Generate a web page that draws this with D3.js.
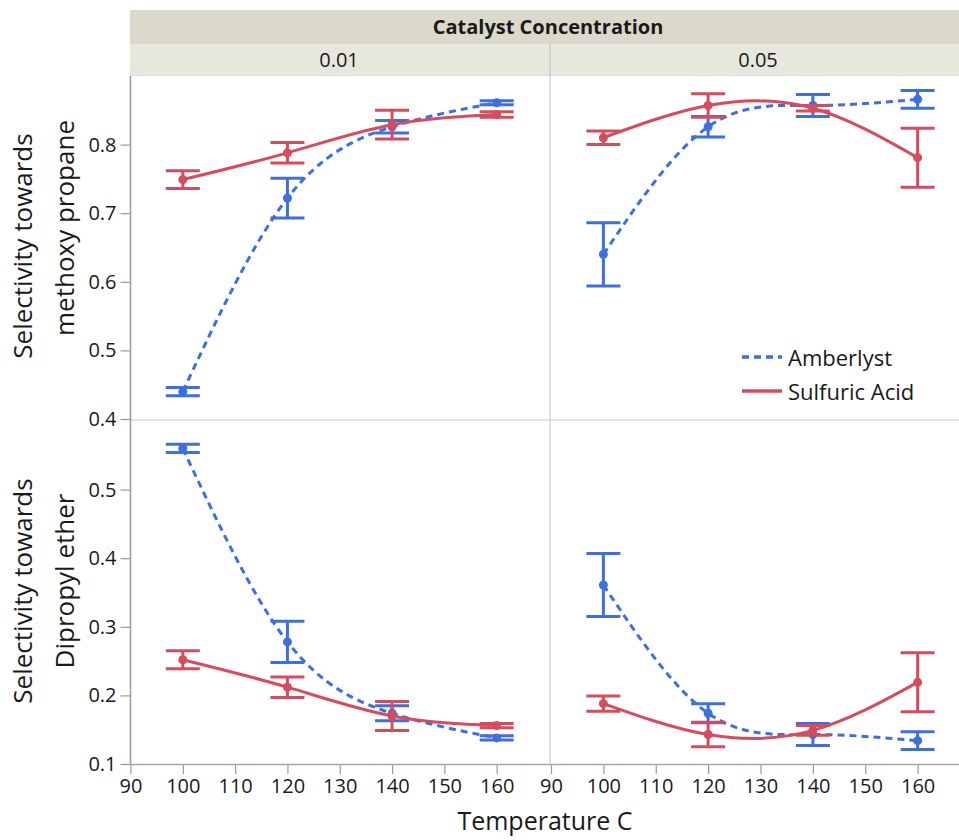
<!DOCTYPE html>
<html>
<head>
<meta charset="utf-8">
<script src="https://cdn.jsdelivr.net/npm/d3@7"></script>
<style>
  html, body { margin: 0; padding: 0; background: #fff; }
  svg { display: block; font-family: "Open Sans", "Noto Sans", sans-serif; }
</style>
</head>
<body>
<script>
// ---- data ----
const temperatures = [100, 120, 140, 160];
const concentrations = ["0.01", "0.05"];
const catalysts = ["Amberlyst", "Sulfuric Acid"];
const responseLines = [["Selectivity towards", "methoxy propane"], ["Selectivity towards", "Dipropyl ether"]];
const xTickValues = [90, 100, 110, 120, 130, 140, 150, 160];
const yTickValuesTop = [0.4, 0.5, 0.6, 0.7, 0.8];
const yTickValuesBottom = [0.1, 0.2, 0.3, 0.4, 0.5];

// methoxy propane selectivity (mean and error half-width)
const methoxyAmberlyst001 = [0.440, 0.722, 0.826, 0.861];
const methoxyAmberlyst001Err = [0.006, 0.029, 0.009, 0.003];
const methoxySulfuric001 = [0.749, 0.788, 0.829, 0.844];
const methoxySulfuric001Err = [0.013, 0.015, 0.021, 0.004];
const methoxyAmberlyst005 = [0.640, 0.826, 0.857, 0.866];
const methoxyAmberlyst005Err = [0.046, 0.015, 0.016, 0.013];
const methoxySulfuric005 = [0.810, 0.857, 0.853, 0.781];
const methoxySulfuric005Err = [0.010, 0.017, 0.004, 0.043];

// dipropyl ether selectivity (mean and error half-width)
const etherAmberlyst001 = [0.560, 0.278, 0.174, 0.138];
const etherAmberlyst001Err = [0.006, 0.030, 0.011, 0.003];
const etherSulfuric001 = [0.252, 0.212, 0.170, 0.156];
const etherSulfuric001Err = [0.013, 0.015, 0.021, 0.003];
const etherAmberlyst005 = [0.361, 0.174, 0.143, 0.134];
const etherAmberlyst005Err = [0.046, 0.014, 0.016, 0.013];
const etherSulfuric005 = [0.188, 0.143, 0.149, 0.219];
const etherSulfuric005Err = [0.011, 0.018, 0.007, 0.043];

// ---- layout ----
const W = 959, H = 840;
const colRanges = [[130.5, 549], [551, 970]];
const rowRanges = [[419, 76], [764, 421]];
const yDomains = [[0.4, 0.9], [0.1, 0.6]];
const xDomain = [90, 170];
const catColor = ["#3d6fdf", "#d64c5c"];
const catDash = ["7,5", null];
const textColor = "#1a1a1a";

const panels = [
  { row: 0, col: 0, series: [
    { cat: 0, mean: methoxyAmberlyst001, err: methoxyAmberlyst001Err },
    { cat: 1, mean: methoxySulfuric001, err: methoxySulfuric001Err } ] },
  { row: 0, col: 1, series: [
    { cat: 0, mean: methoxyAmberlyst005, err: methoxyAmberlyst005Err },
    { cat: 1, mean: methoxySulfuric005, err: methoxySulfuric005Err } ] },
  { row: 1, col: 0, series: [
    { cat: 0, mean: etherAmberlyst001, err: etherAmberlyst001Err },
    { cat: 1, mean: etherSulfuric001, err: etherSulfuric001Err } ] },
  { row: 1, col: 1, series: [
    { cat: 0, mean: etherAmberlyst005, err: etherAmberlyst005Err },
    { cat: 1, mean: etherSulfuric005, err: etherSulfuric005Err } ] }
];

const xScales = colRanges.map(r => d3.scaleLinear().domain(xDomain).range(r));
const yScales = rowRanges.map((r, i) => d3.scaleLinear().domain(yDomains[i]).range(r));

const svg = d3.select("body").append("svg").attr("width", W).attr("height", H);

// ---- header strips ----
svg.append("rect").attr("x", 130).attr("y", 10).attr("width", W - 130).attr("height", 33)
  .attr("fill", "#dbd9ca");
svg.append("rect").attr("x", 130).attr("y", 43).attr("width", W - 130).attr("height", 33)
  .attr("fill", "#e8e7de");
svg.append("line").attr("x1", 130).attr("x2", W).attr("y1", 43).attr("y2", 43)
  .attr("stroke", "#d2d0c3").attr("stroke-width", 1);
svg.append("line").attr("x1", 130).attr("x2", W).attr("y1", 75.5).attr("y2", 75.5)
  .attr("stroke", "#dcdcd6").attr("stroke-width", 1);
svg.append("line").attr("x1", 550).attr("x2", 550).attr("y1", 43).attr("y2", 76)
  .attr("stroke", "#d2d1c8").attr("stroke-width", 2);

svg.append("text").attr("x", 548).attr("y", 26.5)
  .attr("text-anchor", "middle").attr("dominant-baseline", "central")
  .attr("font-size", 20).attr("font-weight", "bold").attr("fill", textColor)
  .text("Catalyst Concentration");

svg.selectAll("text.conc").data(concentrations).join("text")
  .attr("class", "conc")
  .attr("x", (d, i) => i === 0 ? 339 : 758).attr("y", 59)
  .attr("text-anchor", "middle").attr("dominant-baseline", "central")
  .attr("font-size", 20).attr("fill", textColor)
  .text(d => d);

// ---- panel separators ----
svg.append("line").attr("x1", 130).attr("x2", W).attr("y1", 420).attr("y2", 420)
  .attr("stroke", "#dadada").attr("stroke-width", 1.5);
svg.append("line").attr("x1", 550).attr("x2", 550).attr("y1", 76).attr("y2", 764)
  .attr("stroke", "#d6d6d6").attr("stroke-width", 1.5);

// ---- axes ----
function styleAxis(g) {
  g.select(".domain").remove();
  g.selectAll(".tick line").attr("stroke", "#9a9a9a").attr("stroke-width", 1.2);
  g.selectAll(".tick text").attr("fill", textColor).attr("font-size", 20)
    .attr("font-family", "\"Open Sans\", \"Noto Sans\", sans-serif");
}

[yTickValuesTop, yTickValuesBottom].forEach((tv, i) => {
  svg.append("g").attr("transform", "translate(130.5,0)")
    .call(d3.axisLeft(yScales[i]).tickValues(tv).tickFormat(d3.format(".1f")).tickSize(10).tickPadding(4))
    .call(styleAxis);
});

xScales.forEach(xs => {
  svg.append("g").attr("transform", "translate(0,764)")
    .call(d3.axisBottom(xs).tickValues(xTickValues).tickSize(10).tickPadding(5))
    .call(styleAxis);
});

svg.append("line").attr("x1", 130.5).attr("x2", 130.5).attr("y1", 76).attr("y2", 765)
  .attr("stroke", "#9a9a9a").attr("stroke-width", 1.5);
svg.append("line").attr("x1", 130).attr("x2", W).attr("y1", 764.5).attr("y2", 764.5)
  .attr("stroke", "#a8a8a8").attr("stroke-width", 1.5);

// ---- axis titles ----
const yTitlePos = [
  [{ x: 22, y: 246 }, { x: 64, y: 228 }],
  [{ x: 22, y: 591 }, { x: 64, y: 581 }]
];
responseLines.forEach((lines, r) => {
  lines.forEach((t, k) => {
    const p = yTitlePos[r][k];
    svg.append("text")
      .attr("transform", `translate(${p.x},${p.y}) rotate(-90)`)
      .attr("text-anchor", "middle").attr("dominant-baseline", "central")
      .attr("font-size", 26).attr("fill", textColor)
      .text(t);
  });
});

svg.append("text").attr("x", 545).attr("y", 820)
  .attr("text-anchor", "middle").attr("dominant-baseline", "central")
  .attr("font-size", 25).attr("fill", textColor)
  .text("Temperature C");

// ---- panel contents ----
const capHalf = 17;
panels.forEach(p => {
  const xs = xScales[p.col], ys = yScales[p.row];
  const g = svg.append("g");
  p.series.forEach(s => {
    const col = catColor[s.cat];
    const pts = temperatures.map((t, i) => ({ t, m: s.mean[i], e: s.err[i] }));
    const sg = g.append("g");

    // error bars
    const eb = sg.selectAll("g.eb").data(pts).join("g").attr("class", "eb");
    eb.append("line")
      .attr("x1", d => xs(d.t)).attr("x2", d => xs(d.t))
      .attr("y1", d => ys(d.m - d.e)).attr("y2", d => ys(d.m + d.e))
      .attr("stroke", col).attr("stroke-width", 3);
    eb.append("line")
      .attr("x1", d => xs(d.t) - capHalf).attr("x2", d => xs(d.t) + capHalf)
      .attr("y1", d => ys(d.m + d.e)).attr("y2", d => ys(d.m + d.e))
      .attr("stroke", col).attr("stroke-width", 3);
    eb.append("line")
      .attr("x1", d => xs(d.t) - capHalf).attr("x2", d => xs(d.t) + capHalf)
      .attr("y1", d => ys(d.m - d.e)).attr("y2", d => ys(d.m - d.e))
      .attr("stroke", col).attr("stroke-width", 3);

    // smooth curve through the means
    const line = d3.line().x(d => xs(d.t)).y(d => ys(d.m)).curve(d3.curveNatural);
    sg.append("path").datum(pts)
      .attr("d", line).attr("fill", "none")
      .attr("stroke", col).attr("stroke-width", 3)
      .attr("stroke-dasharray", catDash[s.cat]);

    // mean points
    sg.selectAll("circle").data(pts).join("circle")
      .attr("cx", d => xs(d.t)).attr("cy", d => ys(d.m)).attr("r", 4.5)
      .attr("fill", col);
  });
});

// ---- legend ----
const legend = svg.append("g");
catalysts.forEach((c, i) => {
  const y = 357 + i * 34;
  legend.append("line").attr("x1", 742).attr("x2", 782).attr("y1", y).attr("y2", y)
    .attr("stroke", catColor[i]).attr("stroke-width", 3.5)
    .attr("stroke-dasharray", catDash[i]);
  legend.append("text").attr("x", 788).attr("y", y)
    .attr("dominant-baseline", "central").attr("font-size", 22).attr("fill", textColor)
    .text(c);
});
</script>
</body>
</html>
